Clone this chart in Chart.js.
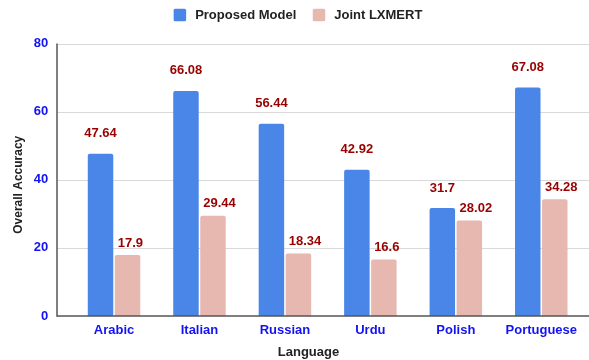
<!DOCTYPE html>
<html>
<head>
<meta charset="utf-8">
<script src="https://cdn.jsdelivr.net/npm/chart.js@4/dist/chart.umd.min.js"></script>
<style>
  html, body { margin: 0; padding: 0; background: #ffffff; }
  #wrap { width: 589px; height: 360px; }
</style>
</head>
<body>
<div id="wrap"><canvas id="chart" width="589" height="360"></canvas></div>
<script>
// Overall accuracy per language
const languages = ['Arabic', 'Italian', 'Russian', 'Urdu', 'Polish', 'Portuguese'];
const proposedModel = [47.64, 66.08, 56.44, 42.92, 31.7, 67.08];
const jointLxmert = [17.9, 29.44, 18.34, 16.6, 28.02, 34.28];
const seriesNames = ['Proposed Model', 'Joint LXMERT'];
const yAxisMin = 0, yAxisMax = 80, yAxisStep = 20;
const xAxisTitle = 'Language';
const yAxisTitle = 'Overall Accuracy';

const FONT = '"Liberation Sans", Arial, sans-serif';
const BLUE = '#4a86e8';
const PINK = '#e6b8af';
const LABEL_RED = '#990000';
const TICK_BLUE = '#1212f5';

// Gridlines, axis lines, titles, legend and value labels
const decorations = {
  id: 'decorations',
  beforeDatasetsDraw(chart) {
    const { ctx, scales: { x, y } } = chart;
    const gl = 57, gr = 589;
    ctx.save();
    ctx.strokeStyle = '#d9d9d9';
    ctx.lineWidth = 1;
    y.ticks.forEach(t => {
      if (t.value === yAxisMin) return;
      const py = Math.round(y.getPixelForValue(t.value)) + 0.5;
      ctx.beginPath(); ctx.moveTo(gl, py); ctx.lineTo(gr, py); ctx.stroke();
    });
    ctx.restore();
  },
  afterDatasetsDraw(chart) {
    const { ctx, scales: { x, y } } = chart;
    const gl = 57, gr = 589;
    const y0 = y.getPixelForValue(yAxisMin);
    const yTop = y.getPixelForValue(yAxisMax);
    ctx.save();
    // axis lines
    ctx.strokeStyle = '#555555';
    ctx.lineWidth = 1.5;
    ctx.beginPath(); ctx.moveTo(gl, yTop); ctx.lineTo(gl, y0 + 0.75); ctx.stroke();
    ctx.beginPath(); ctx.moveTo(gl, y0); ctx.lineTo(gr, y0); ctx.stroke();

    // value labels
    ctx.font = 'bold 13px ' + FONT;
    ctx.fillStyle = LABEL_RED;
    ctx.textBaseline = 'middle';
    chart.data.datasets.forEach((ds, di) => {
      const meta = chart.getDatasetMeta(di);
      meta.data.forEach((bar, i) => {
        const v = ds.data[i];
        const txt = String(v);
        if (di === 0) {
          ctx.textAlign = 'center';
          ctx.fillText(txt, bar.x, bar.y - 20);
        } else {
          ctx.textAlign = 'left';
          ctx.fillText(txt, bar.x - bar.width / 2 + 3, bar.y - 12);
        }
      });
    });

    // axis titles
    ctx.fillStyle = '#222222';
    ctx.font = 'bold 13px ' + FONT;
    ctx.textAlign = 'center';
    ctx.fillText(xAxisTitle, 308.5, 352.5);
    ctx.font = 'bold 12px ' + FONT;
    ctx.translate(19, (yTop + y0) / 2 + 5);
    ctx.rotate(-Math.PI / 2);
    ctx.fillText(yAxisTitle, 0, 0);
    ctx.restore();

    // legend
    ctx.save();
    ctx.font = 'bold 13px ' + FONT;
    ctx.textBaseline = 'middle';
    ctx.textAlign = 'left';
    const colors = [BLUE, PINK];
    const box = 12.5, gapText = 9, gapItem = 16.5;
    let total = 0;
    const widths = seriesNames.map(n => ctx.measureText(n).width);
    widths.forEach((w, i) => { total += box + gapText + w + (i < widths.length - 1 ? gapItem : 0); });
    let lx = 298 - total / 2;
    const ly = 15;
    seriesNames.forEach((n, i) => {
      ctx.fillStyle = colors[i];
      ctx.beginPath();
      ctx.roundRect(lx, ly - box / 2, box, box, 1.5);
      ctx.fill();
      ctx.fillStyle = '#222222';
      ctx.fillText(n, lx + box + gapText, ly + 0.5);
      lx += box + gapText + widths[i] + gapItem;
    });
    ctx.restore();
  }
};

new Chart(document.getElementById('chart'), {
  type: 'bar',
  data: {
    labels: languages,
    datasets: [
      { label: seriesNames[0], data: proposedModel, backgroundColor: BLUE, borderRadius: 2, borderSkipped: 'start' },
      { label: seriesNames[1], data: jointLxmert, backgroundColor: PINK, borderRadius: 2, borderSkipped: 'start' }
    ]
  },
  options: {
    responsive: false,
    animation: false,
    devicePixelRatio: 1,
    datasets: { bar: { categoryPercentage: 0.632, barPercentage: 0.944 } },
    layout: { padding: { top: 43.5, right: 5, left: 0, bottom: 0 } },
    plugins: { legend: { display: false }, tooltip: { enabled: false } },
    scales: {
      x: {
        grid: { display: false, drawTicks: false },
        border: { display: false },
        ticks: { color: TICK_BLUE, font: { family: FONT, size: 13, weight: 'bold' }, padding: 7, maxRotation: 0, autoSkip: false },
        afterFit(s) { s.height = 44; }
      },
      y: {
        min: yAxisMin, max: yAxisMax,
        grid: { display: false, drawTicks: false },
        border: { display: false },
        ticks: { stepSize: yAxisStep, color: TICK_BLUE, font: { family: FONT, size: 13, weight: 'bold' }, padding: 23 },
        afterFit(s) { s.width = 71.3; }
      }
    }
  },
  plugins: [decorations]
});
</script>
</body>
</html>
